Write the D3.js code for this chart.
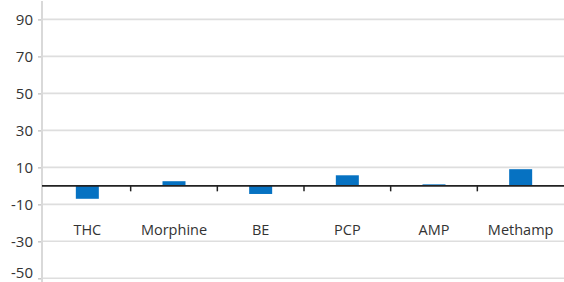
<!DOCTYPE html>
<html>
<head>
<meta charset="utf-8">
<script src="https://cdn.jsdelivr.net/npm/d3@7"></script>
<style>
  body { margin: 0; background: #fff; }
  svg { display: block; font-family: "Open Sans", sans-serif; }
</style>
</head>
<body>
<svg id="chart"></svg>
<script>
const categories = ["THC", "Morphine", "BE", "PCP", "AMP", "Methamp"];
const values = [-7, 2.5, -4.4, 5.7, 0.8, 9];
const yTicks = [-50, -30, -10, 10, 30, 50, 70, 90];

const width = 564;
const height = 282;

const svg = d3.select("#chart").attr("width", width).attr("height", height);

const x = d3.scaleBand().domain(categories).range([44, 564]).padding(0);
const y = d3.scaleLinear().domain([-50, 90]).range([278.3, 19.4]);

const barW = 23;

// grid lines
svg
  .append("g")
  .selectAll("line")
  .data(yTicks)
  .enter()
  .append("line")
  .attr("x1", 42)
  .attr("x2", width)
  .attr("y1", (d) => y(d))
  .attr("y2", (d) => y(d))
  .attr("stroke", "#dedede")
  .attr("stroke-width", 1.6);

// y axis, plain hyphen for negatives like the original
const yAxis = d3
  .axisLeft(y)
  .tickValues(yTicks)
  .tickSize(4)
  .tickPadding(5)
  .tickFormat((d) => String(d));
const gy = svg.append("g").attr("transform", "translate(42,0)").call(yAxis);
gy.select(".domain").remove();
gy.selectAll(".tick line").attr("stroke", "#c8c8c8").attr("stroke-width", 1.5);
gy.selectAll(".tick text")
  .attr("fill", "#333")
  .style("font-size", "15px")
  .style("font-family", "'Open Sans', sans-serif");
// keep the lowest label inside the picture
gy.selectAll(".tick text").filter((d) => d === -50).attr("dy", "-0.04em");
svg
  .append("line")
  .attr("x1", 42)
  .attr("x2", 42)
  .attr("y1", 1)
  .attr("y2", height)
  .attr("stroke", "#d9d9d9")
  .attr("stroke-width", 2);

// bars
svg
  .append("g")
  .selectAll("rect")
  .data(values)
  .enter()
  .append("rect")
  .attr("x", (d, i) => x(categories[i]) + (x.bandwidth() - barW) / 2)
  .attr("width", barW)
  .attr("y", (d) => Math.min(y(d), y(0)))
  .attr("height", (d) => Math.abs(y(d) - y(0)))
  .attr("fill", "#0672c2");

// zero line and category ticks
svg
  .append("line")
  .attr("x1", 42)
  .attr("x2", width)
  .attr("y1", y(0))
  .attr("y2", y(0))
  .attr("stroke", "#222")
  .attr("stroke-width", 1.6);

svg
  .append("g")
  .selectAll("line")
  .data(categories.slice(1))
  .enter()
  .append("line")
  .attr("x1", (d) => x(d))
  .attr("x2", (d) => x(d))
  .attr("y1", y(0))
  .attr("y2", y(0) + 5.5)
  .attr("stroke", "#222")
  .attr("stroke-width", 1.5);

// category labels
svg
  .append("g")
  .selectAll("text")
  .data(categories)
  .enter()
  .append("text")
  .attr("x", (d) => x(d) + x.bandwidth() / 2)
  .attr("y", 235)
  .attr("text-anchor", "middle")
  .attr("fill", "#333")
  .style("font-size", "14.5px")
  .text((d) => d);
</script>
</body>
</html>
